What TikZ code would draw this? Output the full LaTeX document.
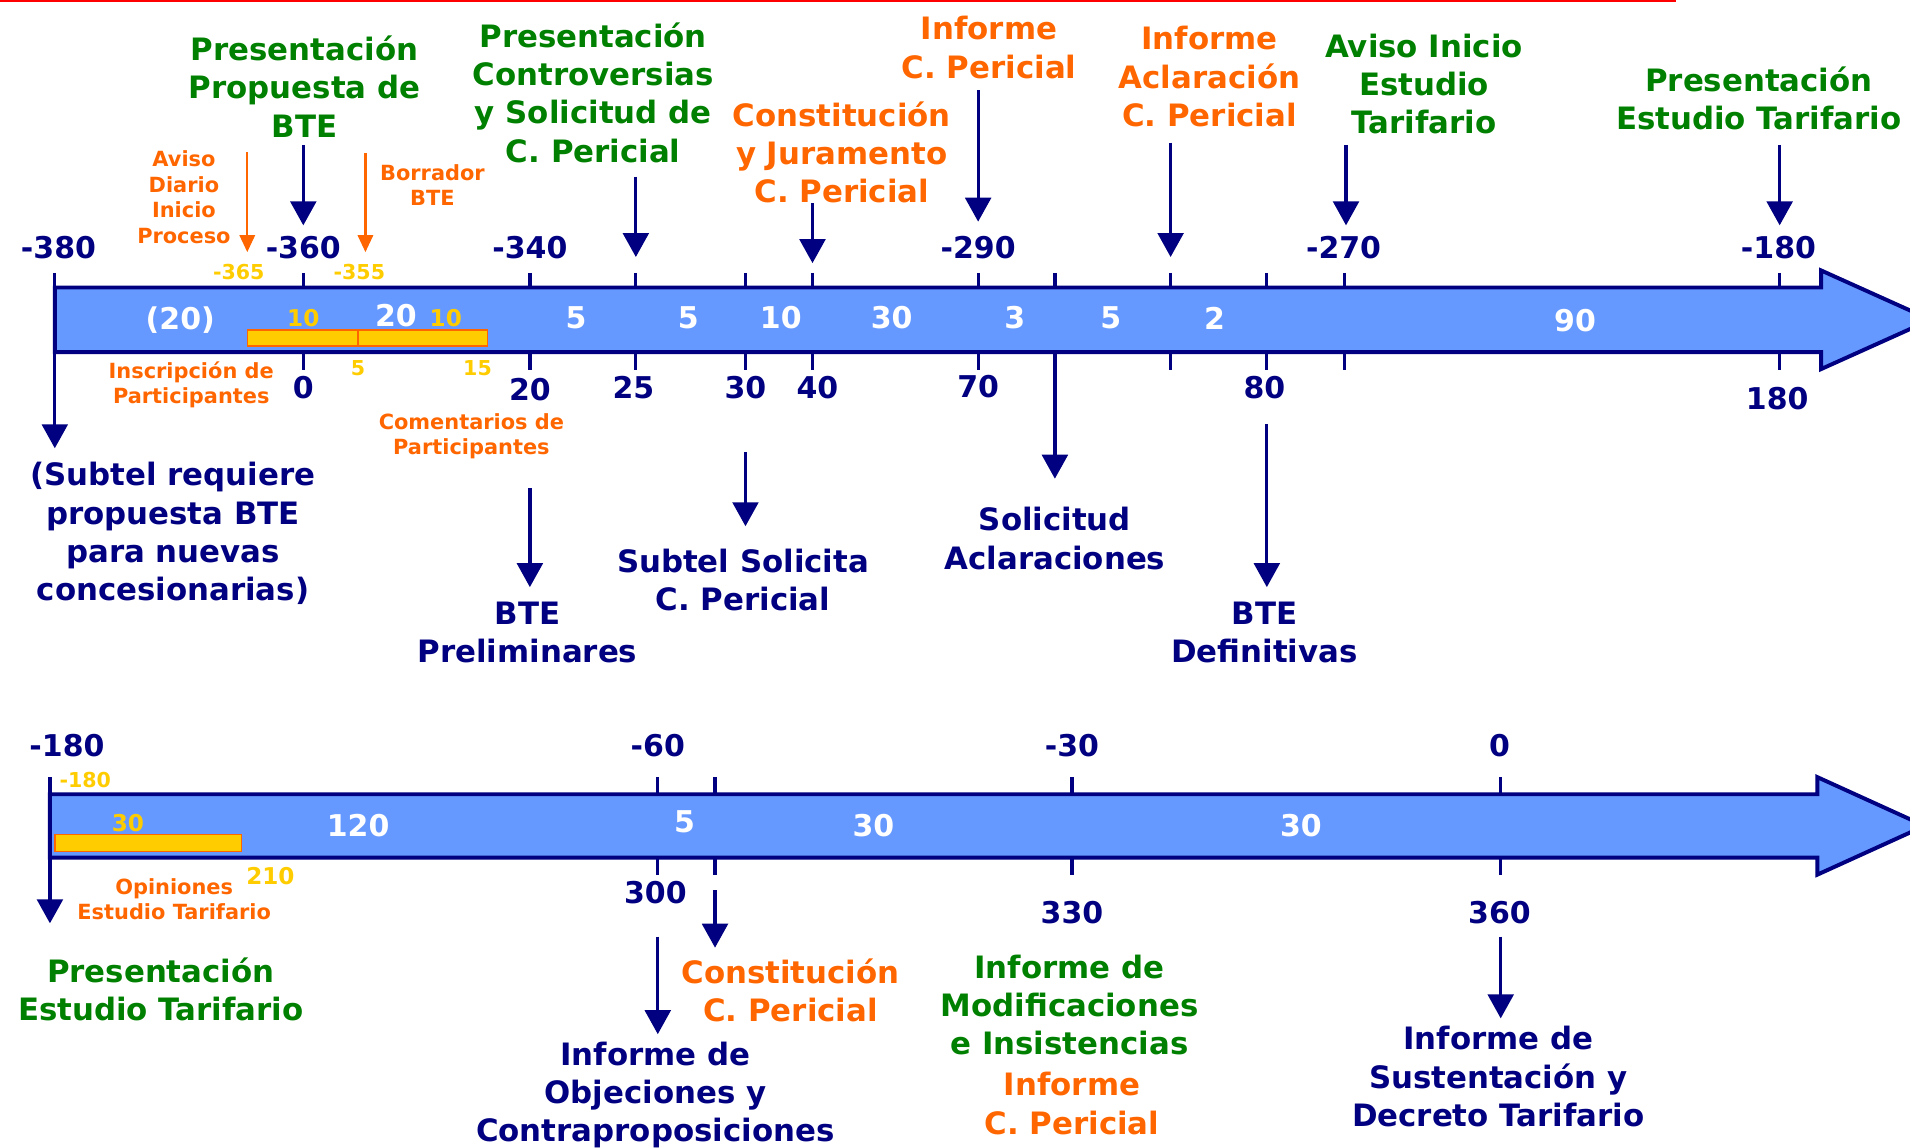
\documentclass[tikz,border=0pt]{standalone}
\usepackage{fontspec}
\setmainfont{DejaVu Sans}
\usetikzlibrary{arrows.meta}
\definecolor{navy}{RGB}{0,0,128}
\definecolor{dgreen}{RGB}{0,128,0}
\definecolor{orng}{RGB}{255,102,0}
\definecolor{barblue}{RGB}{102,153,255}
\definecolor{gold}{RGB}{255,204,0}

\begin{document}
\begin{tikzpicture}[x=0.025cm,y=-0.025cm,
		lbl/.style={font=\fontsize{18}{22.4}\selectfont\bfseries,align=center,inner sep=0pt},
		small/.style={font=\fontsize{12.2}{14.9}\selectfont\bfseries,align=center,inner sep=0pt,text=orng},
		num/.style={font=\fontsize{17.5}{20}\selectfont\bfseries,text=navy,inner sep=0pt},
		ysm/.style={font=\fontsize{12}{13}\selectfont\bfseries,text=gold,inner sep=0pt},
		inw/.style={font=\fontsize{17.5}{20}\selectfont\bfseries,text=white,inner sep=0pt},
		iny/.style={font=\fontsize{13.5}{16}\selectfont\bfseries,text=gold,inner sep=0pt},
		tick/.style={draw=navy,line width=1.9pt},
		timebar/.style={draw=navy,fill=barblue,line width=2.3pt,line join=miter},
		slot/.style={draw=orng,fill=gold,line width=0.8pt},
		darr/.style={draw=navy,line width=1.9pt,-{Triangle[length=14pt,width=15pt]}},
		oarr/.style={draw=orng,line width=1.3pt,-{Triangle[length=10pt,width=9pt]}}]
		\useasboundingbox (0,0) rectangle (1568,942);
		\draw [red,line width=1pt] (0,1) -- (1376,1);

		% first line: days before / after
		\draw [tick] (45,224) -- (45,289) (249,224) -- (249,304) (435,224) -- (435,304) (522,224) -- (522,304)
			(612,224) -- (612,304) (667,224) -- (667,304) (803,224) -- (803,304) (866,224) -- (866,289)
			(961,224) -- (961,304) (1040,224) -- (1040,304) (1104,224) -- (1104,304) (1461,224) -- (1461,304);
		\draw [timebar] (45,236) -- (1495,236) -- (1495,222) -- (1585,262.5) -- (1495,303) -- (1495,289) -- (45,289) -- cycle;
		\draw [slot] (203,271) rectangle (294,284);
		\draw [slot] (294,271) rectangle (400,284);

		\node [num] (n380) at (48,203) {-380};
		\node [num] (n360) at (249,203) {-360};
		\node [num] (n340) at (435,203) {-340};
		\node [num] (n290) at (803,203) {-290};
		\node [num] (n270) at (1103,203) {-270};
		\node [num] (n180) at (1460,203) {-180};
		\node [num] (d0) at (249,318) {0};
		\node [num] (d20) at (435,320) {20};
		\node [num] (d25) at (520,318) {25};
		\node [num] (d30) at (612,318) {30};
		\node [num] (d40) at (671,318) {40};
		\node [num] (d70) at (803,317) {70};
		\node [num] (d80) at (1038,318) {80};
		\node [num] (d180) at (1459,327) {180};
		\node [ysm] (y365) at (196,223) {-365};
		\node [ysm] (y355) at (295,223) {-355};
		\node [ysm] (y5) at (294,302) {5};
		\node [ysm] (y15) at (392,302) {15};

		\node [inw] (w20a) at (148,263) {(20)};
		\node [iny] (g10a) at (249,261) {10};
		\node [inw] (w20b) at (325,259) {20};
		\node [iny] (g10b) at (366,261) {10};
		\node [inw] (w5a) at (473,261) {5};
		\node [inw] (w5b) at (565,261) {5};
		\node [inw] (w10) at (641,261) {10};
		\node [inw] (w30) at (732,261) {30};
		\node [inw] (w3) at (833,261) {3};
		\node [inw] (w5c) at (912,261) {5};
		\node [inw] (w2) at (997,261) {2};
		\node [inw] (w90) at (1293,263) {90};

		\node [lbl,text=dgreen] (propbte) at (250,71) {Presentación\\Propuesta de\\BTE};
		\node [lbl,text=dgreen] (controv) at (487,76) {Presentación\\Controversias\\y Solicitud de\\C. Pericial};
		\node [lbl,text=orng] (jurament) at (691,125) {Constitución\\y Juramento\\C. Pericial};
		\node [lbl,text=orng] (infperic) at (812,39) {Informe\\C. Pericial};
		\node [lbl,text=orng] (infaclar) at (993,63) {Informe\\Aclaración\\C. Pericial};
		\node [lbl,text=dgreen] (avisoest) at (1169,69) {Aviso Inicio\\Estudio\\Tarifario};
		\node [lbl,text=dgreen] (presest) at (1444,81) {Presentación\\Estudio Tarifario};
		\node [small] (avisodia) at (151,162) {Aviso\\Diario\\Inicio\\Proceso};
		\node [small] (borrador) at (355,152) {Borrador\\BTE};
		\node [small] (inscrip) at (157,316) {Inscripción de\\Participantes};
		\node [small] (comenta) at (387,358) {Comentarios de\\Participantes};
		\node [lbl,text=navy] (subtelreq) at (142,438) {(Subtel requiere\\propuesta BTE\\para nuevas\\concesionarias)};
		\node [lbl,text=navy] (btepre) at (433,519) {BTE\\Preliminares};
		\node [lbl,text=navy] (subtelsol) at (610,476) {Subtel Solicita\\C. Pericial};
		\node [lbl,text=navy] (solaclar) at (866,442) {Solicitud\\Aclaraciones};
		\node [lbl,text=navy] (btedef) at (1038,519) {BTE\\Definitivas};

		\coordinate (s360) at (249,119); \coordinate (e360) at (249,185);
		\coordinate (s365) at (203,125); \coordinate (e365) at (203,207);
		\coordinate (s355) at (300,126); \coordinate (e355) at (300,207);
		\coordinate (s25) at (522,145); \coordinate (e25) at (522,211);
		\coordinate (s40) at (667,167); \coordinate (e40) at (667,216);
		\coordinate (s290) at (803,74); \coordinate (e290) at (803,182);
		\coordinate (sacl) at (961,117); \coordinate (eacl) at (961,211);
		\coordinate (s270) at (1105,119); \coordinate (e270) at (1105,185);
		\coordinate (s180) at (1461,119); \coordinate (e180) at (1461,185);
		\coordinate (s380) at (45,289); \coordinate (e380) at (45,368);
		\coordinate (ssol) at (866,289); \coordinate (esol) at (866,393);
		\coordinate (s20) at (435,401); \coordinate (e20) at (435,482);
		\coordinate (s30) at (612,371); \coordinate (e30) at (612,432);
		\coordinate (s80) at (1040,348); \coordinate (e80) at (1040,482);
		\draw [darr] (s360) -- (e360);
		\draw [oarr] (s365) -- (e365);
		\draw [oarr] (s355) -- (e355);
		\draw [darr] (s25) -- (e25);
		\draw [darr] (s40) -- (e40);
		\draw [darr] (s290) -- (e290);
		\draw [darr] (sacl) -- (eacl);
		\draw [darr] (s270) -- (e270);
		\draw [darr] (s180) -- (e180);
		\draw [darr] (s380) -- (e380);
		\draw [darr] (ssol) -- (esol);
		\draw [darr] (s20) -- (e20);
		\draw [darr] (s30) -- (e30);
		\draw [darr] (s80) -- (e80);

		% second line
		\draw [tick] (41,638) -- (41,704) (540,638) -- (540,718) (587,638) -- (587,718) (880,638) -- (880,718) (1232,638) -- (1232,718);
		\draw [timebar] (41,652) -- (1492,652) -- (1492,638) -- (1580,678) -- (1492,718) -- (1492,704) -- (41,704) -- cycle;
		\draw [slot] (45,685) rectangle (198,699);

		\node [num] (m180) at (55,612) {-180};
		\node [num] (m60) at (540,612) {-60};
		\node [num] (m30) at (880,612) {-30};
		\node [num] (m0) at (1231,612) {0};
		\node [num] (p300) at (538,733) {300};
		\node [num] (p330) at (880,749) {330};
		\node [num] (p360) at (1231,749) {360};
		\node [ysm] (y180) at (70,640) {-180};
		\node [iny] (y210) at (222,719) {210};
		\node [iny] (g30) at (105,676) {30};
		\node [inw] (w120) at (294,678) {120};
		\node [inw] (w5d) at (562,675) {5};
		\node [inw] (w30b) at (717,678) {30};
		\node [inw] (w30c) at (1068,678) {30};

		\node [small] (opin) at (143,738) {Opiniones\\Estudio Tarifario};
		\node [lbl,text=dgreen] (presest2) at (132,812) {Presentación\\Estudio Tarifario};
		\node [lbl,text=navy] (infobj) at (538,899) {Informe de\\Objeciones y\\Contraproposiciones};
		\node [lbl,text=orng] (constit2) at (649,813) {Constitución\\C. Pericial};
		\node [lbl,text=dgreen] (infmod) at (878,825) {Informe de\\Modificaciones\\e Insistencias};
		\node [lbl,text=orng] (infper2) at (880,906) {Informe\\C. Pericial};
		\node [lbl,text=navy] (infsust) at (1230,884) {Informe de\\Sustentación y\\Decreto Tarifario};

		\coordinate (s2a) at (41,704); \coordinate (e2a) at (41,758);
		\coordinate (s300) at (540,769); \coordinate (e300) at (540,849);
		\coordinate (scon) at (587,731); \coordinate (econ) at (587,778);
		\coordinate (s2d) at (1232,769); \coordinate (e2d) at (1232,836);
		\draw [darr] (s2a) -- (e2a);
		\draw [darr] (s300) -- (e300);
		\draw [darr] (scon) -- (econ);
		\draw [darr] (s2d) -- (e2d);
	\end{tikzpicture}
\end{document}
